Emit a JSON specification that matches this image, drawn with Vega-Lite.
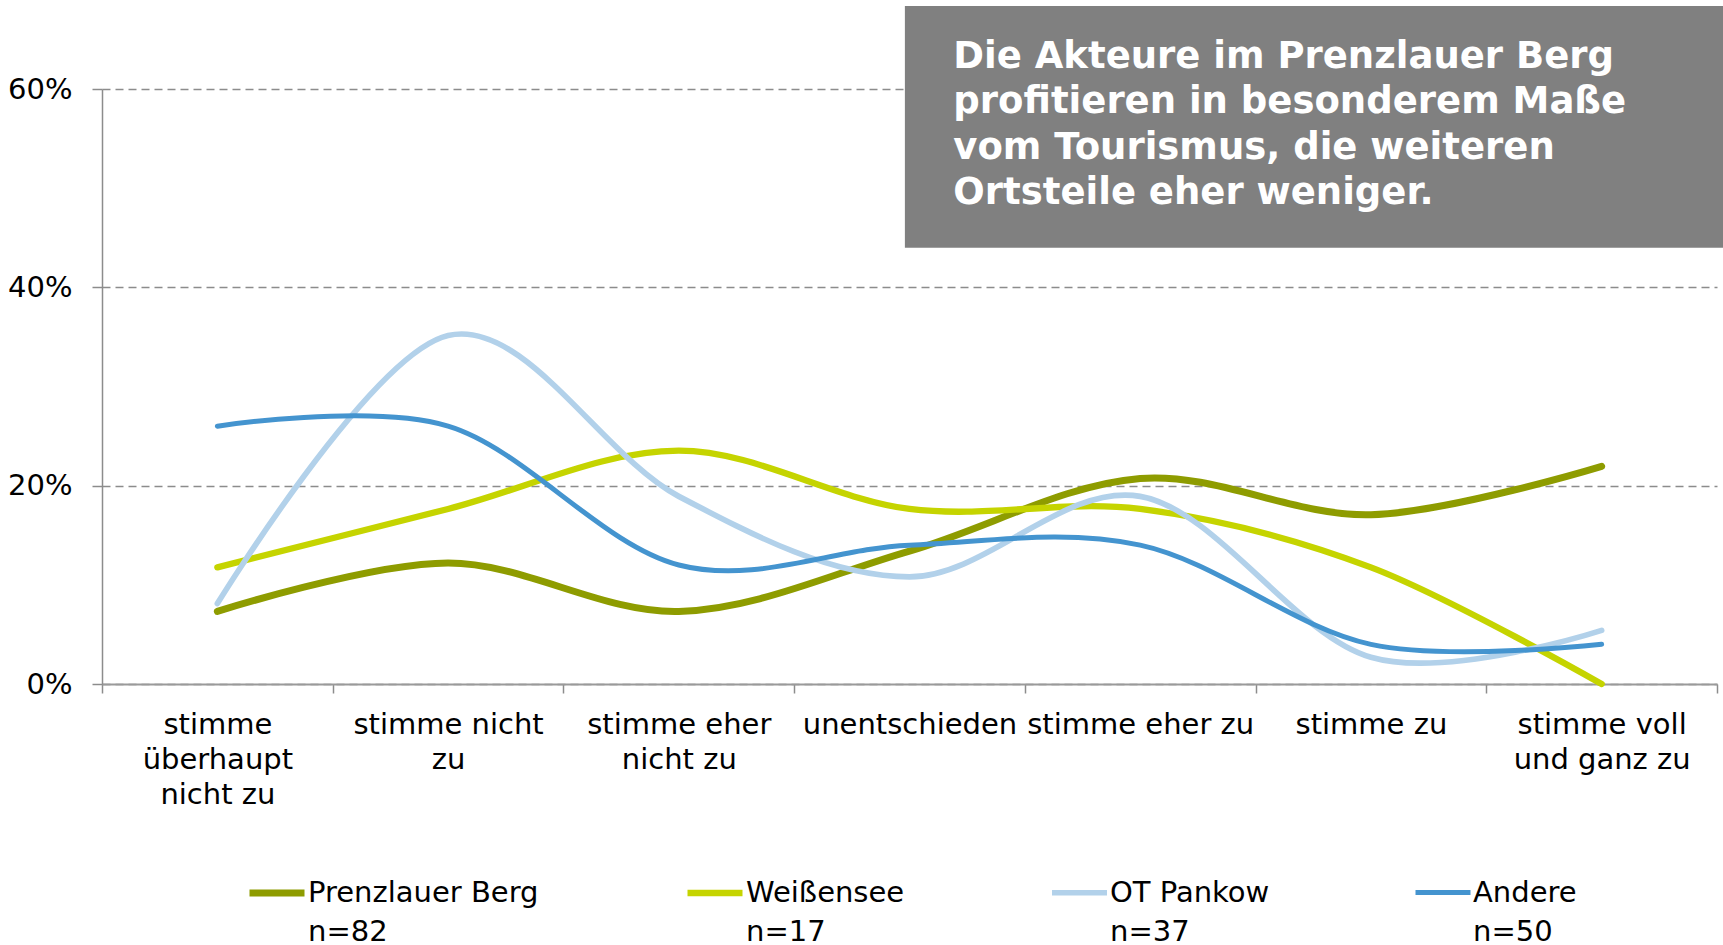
{
  "$schema": "https://vega.github.io/schema/vega-lite/v6.json",
  "width": 1615,
  "height": 595,
  "autosize": {"type": "none"},
  "padding": {"left": 102, "top": 89, "right": 6, "bottom": 261},
  "background": "white",
  "config": {
    "font": "DejaVu Sans",
    "view": {"stroke": null},
    "style": {"guide-label": {"lineHeight": 39}}
  },
  "layer": [
    {
      "data": {
        "values": [
          {"Ortsteil": "Prenzlauer Berg", "Antwort": "stimme überhaupt nicht zu", "Anteil": 0.0732},
          {"Ortsteil": "Prenzlauer Berg", "Antwort": "stimme nicht zu", "Anteil": 0.1220},
          {"Ortsteil": "Prenzlauer Berg", "Antwort": "stimme eher nicht zu", "Anteil": 0.0732},
          {"Ortsteil": "Prenzlauer Berg", "Antwort": "unentschieden", "Anteil": 0.1341},
          {"Ortsteil": "Prenzlauer Berg", "Antwort": "stimme eher zu", "Anteil": 0.2073},
          {"Ortsteil": "Prenzlauer Berg", "Antwort": "stimme zu", "Anteil": 0.1707},
          {"Ortsteil": "Prenzlauer Berg", "Antwort": "stimme voll und ganz zu", "Anteil": 0.2195},
          {"Ortsteil": "Weißensee", "Antwort": "stimme überhaupt nicht zu", "Anteil": 0.1176},
          {"Ortsteil": "Weißensee", "Antwort": "stimme nicht zu", "Anteil": 0.1765},
          {"Ortsteil": "Weißensee", "Antwort": "stimme eher nicht zu", "Anteil": 0.2353},
          {"Ortsteil": "Weißensee", "Antwort": "unentschieden", "Anteil": 0.1765},
          {"Ortsteil": "Weißensee", "Antwort": "stimme eher zu", "Anteil": 0.1765},
          {"Ortsteil": "Weißensee", "Antwort": "stimme zu", "Anteil": 0.1176},
          {"Ortsteil": "Weißensee", "Antwort": "stimme voll und ganz zu", "Anteil": 0.0},
          {"Ortsteil": "OT Pankow", "Antwort": "stimme überhaupt nicht zu", "Anteil": 0.0811},
          {"Ortsteil": "OT Pankow", "Antwort": "stimme nicht zu", "Anteil": 0.3514},
          {"Ortsteil": "OT Pankow", "Antwort": "stimme eher nicht zu", "Anteil": 0.1892},
          {"Ortsteil": "OT Pankow", "Antwort": "unentschieden", "Anteil": 0.1081},
          {"Ortsteil": "OT Pankow", "Antwort": "stimme eher zu", "Anteil": 0.1892},
          {"Ortsteil": "OT Pankow", "Antwort": "stimme zu", "Anteil": 0.0270},
          {"Ortsteil": "OT Pankow", "Antwort": "stimme voll und ganz zu", "Anteil": 0.0541},
          {"Ortsteil": "Andere", "Antwort": "stimme überhaupt nicht zu", "Anteil": 0.26},
          {"Ortsteil": "Andere", "Antwort": "stimme nicht zu", "Anteil": 0.26},
          {"Ortsteil": "Andere", "Antwort": "stimme eher nicht zu", "Anteil": 0.12},
          {"Ortsteil": "Andere", "Antwort": "unentschieden", "Anteil": 0.14},
          {"Ortsteil": "Andere", "Antwort": "stimme eher zu", "Anteil": 0.14},
          {"Ortsteil": "Andere", "Antwort": "stimme zu", "Anteil": 0.04},
          {"Ortsteil": "Andere", "Antwort": "stimme voll und ganz zu", "Anteil": 0.04}
        ]
      },
      "mark": {"type": "line", "interpolate": "cardinal", "strokeCap": "round", "strokeJoin": "round"},
      "encoding": {
        "x": {
          "field": "Antwort",
          "type": "nominal",
          "bandPosition": 0.5,
          "scale": {
            "type": "band",
            "paddingInner": 0,
            "paddingOuter": 0,
            "domain": ["stimme überhaupt nicht zu", "stimme nicht zu", "stimme eher nicht zu", "unentschieden", "stimme eher zu", "stimme zu", "stimme voll und ganz zu"]
          },
          "axis": {
            "title": null,
            "grid": false,
            "tickBand": "extent",
            "tickSize": 9,
            "tickWidth": 1.5,
            "tickColor": "#8c8c8c",
            "domainColor": "#9a9a9a",
            "domainWidth": 2.2,
            "labelAngle": 0,
            "labelAlign": "center",
            "labelBaseline": "top",
            "labelPadding": 17,
            "labelFontSize": 29,
            "labelColor": "#000000",
            "labelLineHeight": 35,
            "labelLimit": 1000,
            "labelOverlap": false,
            "labelBound": false,
            "labelFlush": false,
            "labelExpr": "datum.label == 'stimme überhaupt nicht zu' ? ['stimme', 'überhaupt', 'nicht zu'] : datum.label == 'stimme nicht zu' ? ['stimme nicht', 'zu'] : datum.label == 'stimme eher nicht zu' ? ['stimme eher', 'nicht zu'] : datum.label == 'stimme voll und ganz zu' ? ['stimme voll', 'und ganz zu'] : datum.label"
          }
        },
        "y": {
          "field": "Anteil",
          "type": "quantitative",
          "scale": {"domain": [0, 0.6], "nice": false},
          "axis": {
            "title": null,
            "values": [0, 0.2, 0.4, 0.6],
            "format": ".0%",
            "grid": true,
            "gridColor": "#8c8c8c",
            "gridWidth": 1.5,
            "gridDash": [8, 5],
            "domainColor": "#8c8c8c",
            "domainWidth": 1.5,
            "tickColor": "#8c8c8c",
            "tickWidth": 1.5,
            "tickSize": 10,
            "labelPadding": 20,
            "labelFontSize": 29,
            "labelColor": "#000000"
          }
        },
        "color": {
          "field": "Ortsteil",
          "type": "nominal",
          "scale": {
            "domain": ["Prenzlauer Berg", "Weißensee", "OT Pankow", "Andere"],
            "range": ["#8e9c00", "#c5d400", "#b2d1ea", "#4494cf"]
          },
          "legend": {
            "orient": "none",
            "legendX": 144,
            "legendY": 773,
            "direction": "horizontal",
            "title": null,
            "padding": 0,
            "symbolType": "stroke",
            "symbolSize": 3025,
            "symbolStrokeWidth": 6.5,
            "labelFontSize": 29,
            "labelColor": "#000000",
            "labelLimit": 1000,
            "labelOffset": 0,
            "labelBaseline": "middle",
            "columnPadding": 135,
            "labelExpr": "datum.label == 'Prenzlauer Berg' ? ['Prenzlauer Berg', 'n=82'] : datum.label == 'Weißensee' ? ['Weißensee', 'n=17'] : datum.label == 'OT Pankow' ? ['OT Pankow', 'n=37'] : ['Andere', 'n=50']"
          }
        },
        "strokeWidth": {
          "field": "Ortsteil",
          "type": "nominal",
          "scale": {
            "domain": ["Prenzlauer Berg", "Weißensee", "OT Pankow", "Andere"],
            "range": [7, 5, 5, 5]
          },
          "legend": null
        }
      }
    },
    {
      "data": {"values": [{}]},
      "mark": {"type": "rect", "color": "#808080"},
      "encoding": {
        "x": {"datum": 3.48, "type": "quantitative", "scale": {"domain": [0, 7], "nice": false, "zero": false}, "axis": null},
        "x2": {"datum": 7.05},
        "y": {"datum": 0.4398, "type": "quantitative", "scale": {"domain": [0, 0.6], "nice": false}},
        "y2": {"datum": 0.6837}
      }
    },
    {
      "data": {"values": [{}]},
      "mark": {
        "type": "text",
        "text": ["Die Akteure im Prenzlauer Berg", "profitieren in besonderem Maße", "vom Tourismus, die weiteren", "Ortsteile eher weniger."],
        "font": "DejaVu Sans",
        "fontSize": 37,
        "fontWeight": "bold",
        "color": "#ffffff",
        "align": "left",
        "baseline": "alphabetic",
        "lineHeight": 45.5
      },
      "encoding": {
        "x": {"datum": 3.69, "type": "quantitative", "scale": {"domain": [0, 7], "nice": false, "zero": false}, "axis": null},
        "y": {"datum": 0.6215, "type": "quantitative", "scale": {"domain": [0, 0.6], "nice": false}}
      }
    }
  ],
  "resolve": {"scale": {"x": "independent"}}
}
